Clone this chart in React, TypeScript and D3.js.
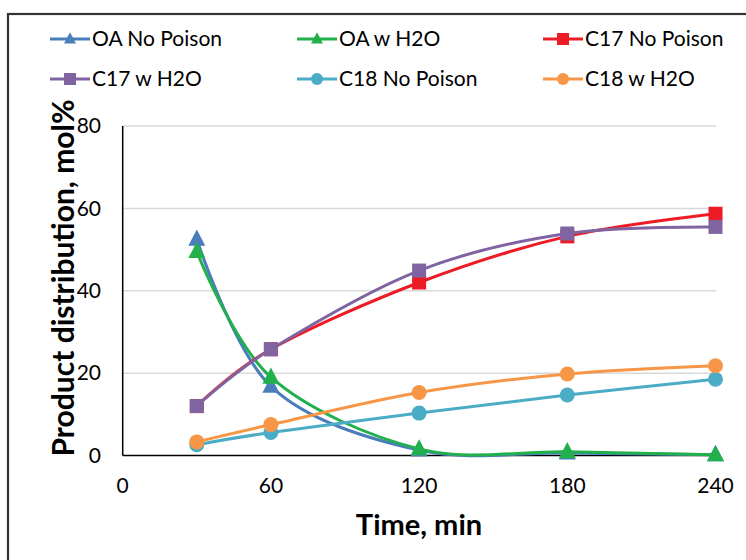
import React from "react";
import * as d3 from "d3";

const times = [30, 60, 120, 180, 240];
const xTicks = [0, 60, 120, 180, 240];
const yTicks = [0, 20, 40, 60, 80];

const oaNoPoison = [52.5, 16.8, 1.3, 0.6, 0.2];
const oaWH2O = [49.5, 19.0, 1.6, 0.9, 0.2];
const c17NoPoison = [12.0, 25.8, 42.0, 53.2, 58.7];
const c17WH2O = [12.0, 25.8, 44.9, 53.9, 55.5];
const c18NoPoison = [2.6, 5.6, 10.3, 14.7, 18.5];
const c18WH2O = [3.3, 7.5, 15.3, 19.8, 21.8];

const seriesNames = ["OA No Poison", "OA w H2O", "C17 No Poison", "C17 w H2O", "C18 No Poison", "C18 w H2O"];
const seriesValues = [oaNoPoison, oaWH2O, c17NoPoison, c17WH2O, c18NoPoison, c18WH2O];
const seriesColors = ["#4a7ebb", "#21b04b", "#ed1c24", "#8064a2", "#4bacc6", "#f79646"];
const seriesMarkers = ["triangle", "triangle", "square", "square", "circle", "circle"];

const W = 746;
const H = 560;
const FONT = "Lato, 'Open Sans', sans-serif";

function Marker({ type, x, y, color, size }: { type: string; x: number; y: number; color: string; size: number }) {
  if (type === "triangle") {
    const h = size * 0.95;
    const pts = [
      [x, y - h * 0.6],
      [x - size / 2, y + h * 0.4],
      [x + size / 2, y + h * 0.4],
    ];
    return <polygon points={pts.map((p) => p.join(",")).join(" ")} fill={color} />;
  }
  if (type === "square") {
    return <rect x={x - size / 2} y={y - size / 2} width={size} height={size} fill={color} />;
  }
  return <circle cx={x} cy={y} r={size / 2} fill={color} />;
}

export default function App() {
  const x = d3.scaleLinear().domain([0, 240]).range([122.7, 715.5]);
  const y = d3.scaleLinear().domain([0, 80]).range([455.5, 126]);
  const line = d3
    .line<[number, number]>()
    .x((d) => x(d[0]))
    .y((d) => y(d[1]))
    .curve(d3.curveCardinal.tension(0));

  const markerSize: Record<string, number> = { triangle: 17, square: 14, circle: 15 };
  const legendMarkerSize: Record<string, number> = { triangle: 12, square: 12, circle: 12 };

  const legendCols = [50, 297, 543];
  const legendRows = [39, 79];

  return (
    <svg width={W} height={H} style={{ position: "absolute", left: 0, top: 0, background: "#fff" }}>
      <rect x={8} y={14} width={W} height={H} fill="#fff" stroke="#333" strokeWidth={2.2} />
      {/* gridlines */}
      {yTicks.filter((t) => t > 0).map((t) => (
        <line key={t} x1={x(0)} x2={716} y1={y(t)} y2={y(t)} stroke="#d9d9d9" strokeWidth={1.5} />
      ))}
      {/* axes */}
      <line x1={x(0)} x2={x(0)} y1={y(80)} y2={y(0)} stroke="#000" strokeWidth={1.5} />
      <line x1={x(0)} x2={716} y1={y(0)} y2={y(0)} stroke="#000" strokeWidth={1.5} />
      {/* y tick labels */}
      {yTicks.map((t) => (
        <text key={t} x={101} y={y(t)} dy="0.35em" textAnchor="end" fontSize={21} fontFamily={FONT} fill="#000">
          {t}
        </text>
      ))}
      {/* x tick labels */}
      {xTicks.map((t) => (
        <text key={t} x={x(t)} y={493} textAnchor="middle" fontSize={21} fontFamily={FONT} fill="#000">
          {t}
        </text>
      ))}
      {/* axis titles */}
      <text x={419} y={535} textAnchor="middle" fontSize={29} fontWeight="bold" fontFamily={FONT} fill="#000">
        Time, min
      </text>
      <text
        transform={`translate(74, 278) rotate(-90)`}
        textAnchor="middle"
        fontSize={30}
        fontWeight="bold"
        fontFamily={FONT}
        fill="#000"
      >
        Product distribution, mol%
      </text>
      {/* series */}
      {seriesValues.map((vals, i) => {
        const data = times.map((t, j) => [t, vals[j]] as [number, number]);
        return (
          <g key={seriesNames[i]}>
            <path d={line(data) || ""} fill="none" stroke={seriesColors[i]} strokeWidth={3} />
            {data.map((d, j) => (
              <Marker key={j} type={seriesMarkers[i]} x={x(d[0])} y={y(d[1])} color={seriesColors[i]} size={markerSize[seriesMarkers[i]]} />
            ))}
          </g>
        );
      })}
      {/* legend */}
      {seriesNames.map((name, i) => {
        const lx = legendCols[i % 3];
        const ly = legendRows[Math.floor(i / 3)];
        return (
          <g key={name}>
            <line x1={lx} x2={lx + 40} y1={ly} y2={ly} stroke={seriesColors[i]} strokeWidth={3} />
            <Marker type={seriesMarkers[i]} x={lx + 20} y={ly} color={seriesColors[i]} size={legendMarkerSize[seriesMarkers[i]]} />
            <text x={lx + 42} y={ly} dy="0.35em" fontSize={21} fontFamily={FONT} fill="#000">
              {name}
            </text>
          </g>
        );
      })}
    </svg>
  );
}
